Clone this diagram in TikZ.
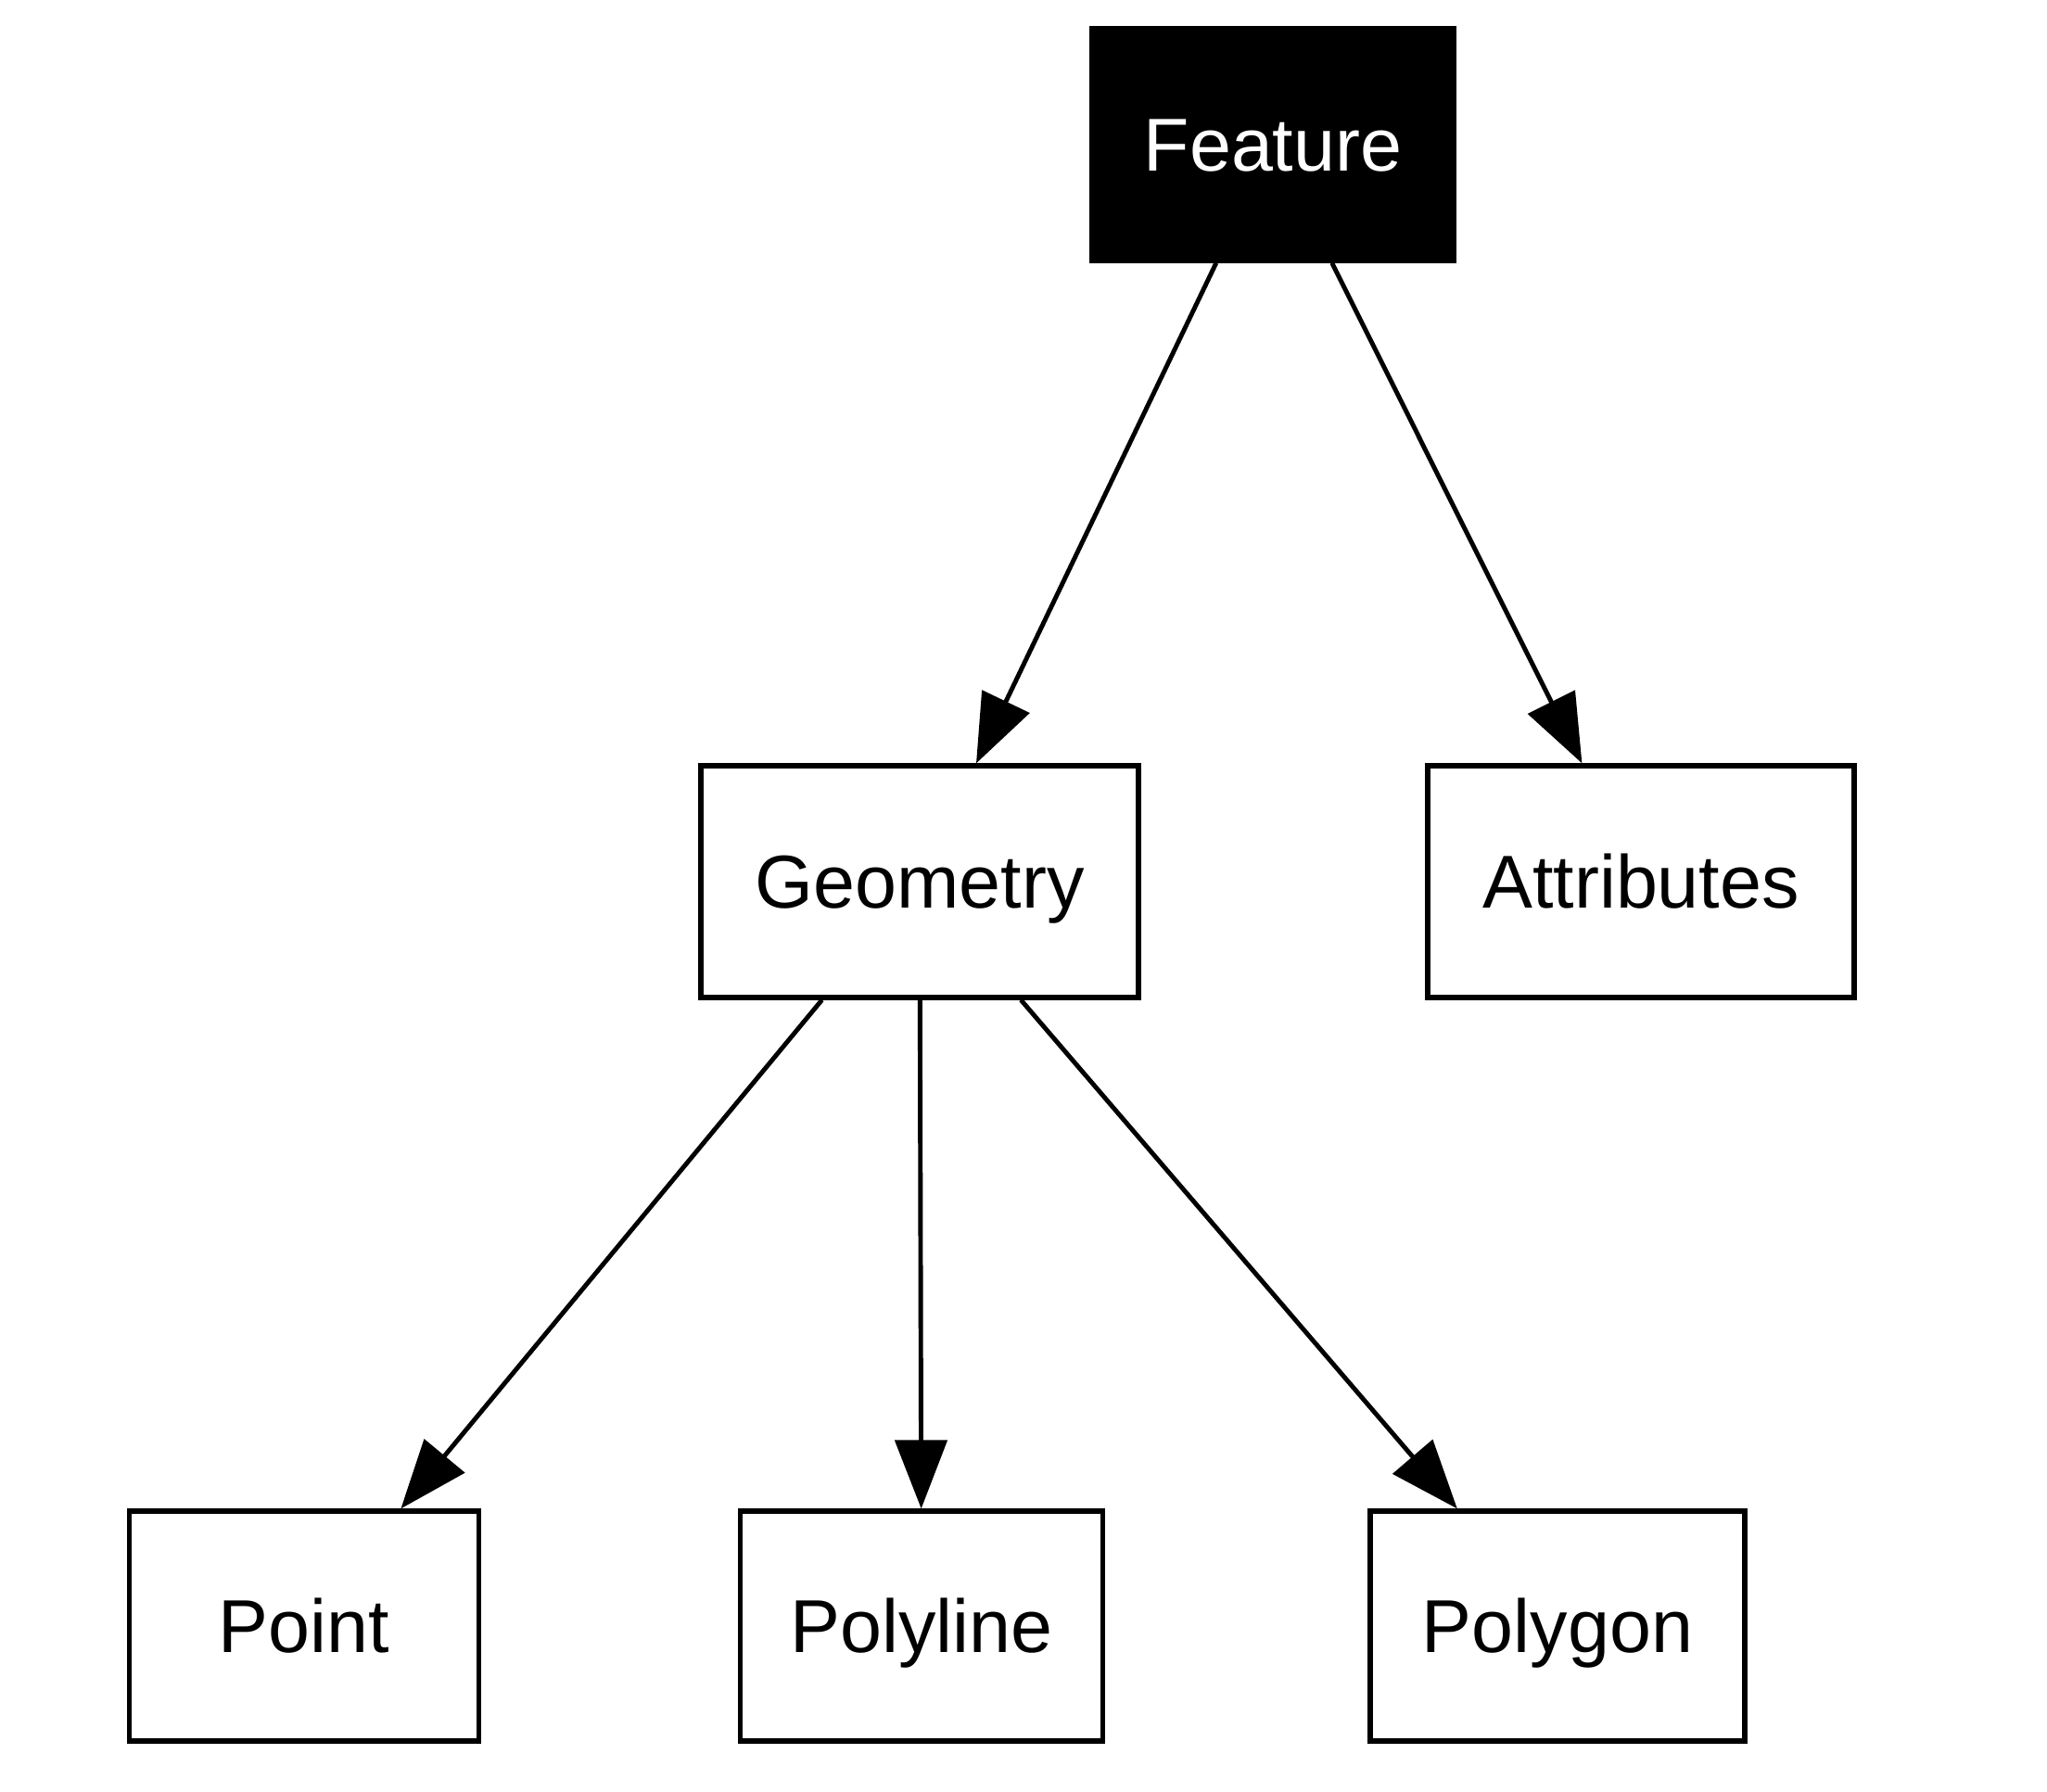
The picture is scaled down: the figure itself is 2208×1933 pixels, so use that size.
\documentclass[tikz,border=0pt]{standalone}
\usepackage{fontspec}
\setmainfont{Liberation Sans}
\usepackage{tikz}
\usetikzlibrary{arrows.meta,positioning}

\begin{document}
\begin{tikzpicture}[x=0.1mm,y=-0.1mm,
        >={Triangle[length=7.4mm,width=5.6mm]},
        box/.style={draw,line width=1.5pt,inner sep=0pt,minimum height=25mm,
                    text height=16.5pt,text depth=0pt,
                    font=\fontsize{23}{27}\selectfont},
        link/.style={->,line width=1.4pt}]
        \useasboundingbox (0,0) rectangle (2208,1933);
        % top level
        \node[box,fill=black,text=white,minimum width=39.1mm] (feature)    at (1373,156)  {Feature};
        % second row
        \node[box,minimum width=47.2mm]                      (geometry)   at (992,951)   {Geometry};
        \node[box,minimum width=46mm]                        (attributes) at (1770,951)  {Attributes};
        % geometry types
        \node[box,minimum width=37.7mm,minimum height=24.8mm] (point)     at (328,1754)  {Point};
        \node[box,minimum width=39.1mm,minimum height=24.8mm] (polyline)  at (994,1754)  {Polyline};
        \node[box,minimum width=40.4mm,minimum height=24.8mm] (polygon)   at (1680,1754) {Polygon};
        \draw[link] (feature)  -- (geometry);
        \draw[link] (feature)  -- (attributes);
        \draw[link] (geometry) -- (point);
        \draw[link] (geometry) -- (polyline);
        \draw[link] (geometry) -- (polygon);
\end{tikzpicture}
\end{document}
